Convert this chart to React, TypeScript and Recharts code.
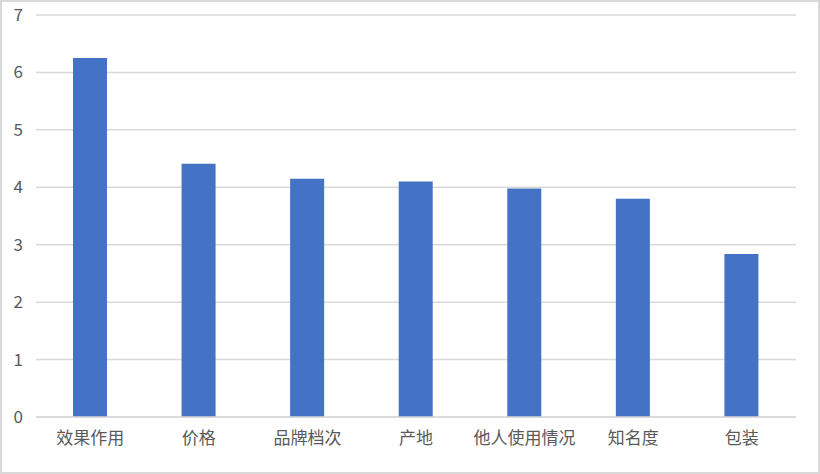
import { BarChart, Bar, XAxis, YAxis, CartesianGrid } from "recharts";

const categories = ["效果作用", "价格", "品牌档次", "产地", "他人使用情况", "知名度", "包装"];
const scores = [6.25, 4.41, 4.15, 4.1, 3.98, 3.8, 2.84];
const yTicks = [0, 1, 2, 3, 4, 5, 6, 7];

const data = categories.map((name, i) => ({ name, value: scores[i] }));

const FONT = '"Noto Sans CJK SC", "Noto Sans", sans-serif';

export default function App() {
  return (
    <div
      style={{
        position: "absolute",
        left: 0,
        top: 0,
        width: 820,
        height: 474,
        boxSizing: "border-box",
        border: "2px solid #d9d9d9",
        background: "#fff",
        fontFamily: FONT,
      }}
    >
      <div style={{ position: "absolute", left: -2, top: -2 }}>
        <BarChart
          width={820}
          height={474}
          data={data}
          margin={{ top: 15, right: 24, bottom: 0, left: 0 }}
        >
          <CartesianGrid vertical={false} stroke="#d9d9d9" strokeWidth={1.5} />
          <XAxis
            dataKey="name"
            axisLine={{ stroke: "#d9d9d9", strokeWidth: 1.5 }}
            tickLine={false}
            tickMargin={9}
            height={57}
            interval={0}
            tick={{ fontSize: 17, fill: "#595959", fontFamily: FONT }}
          />
          <YAxis
            domain={[0, 7]}
            ticks={yTicks}
            axisLine={false}
            tickLine={false}
            tickMargin={7}
            width={36}
            tick={{ fontSize: 17, fill: "#595959", fontFamily: FONT }}
          />
          <Bar dataKey="value" fill="#4472c4" barSize={34} isAnimationActive={false} />
        </BarChart>
      </div>
    </div>
  );
}
